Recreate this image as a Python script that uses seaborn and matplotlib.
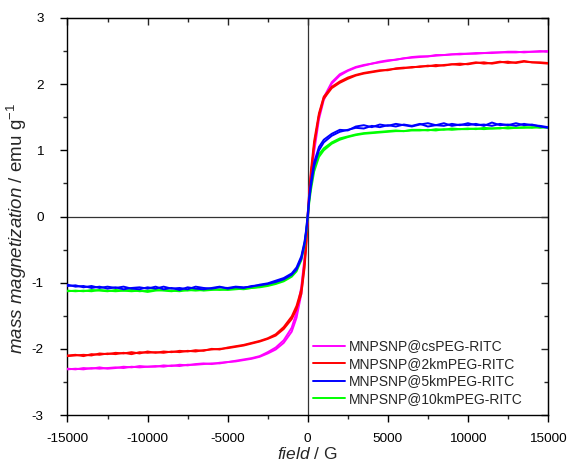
import numpy as np
import pandas as pd
import matplotlib
matplotlib.use('Agg')
import matplotlib.pyplot as plt
from matplotlib.ticker import MultipleLocator
import seaborn as sns

# applied field (G), same grid for both sweep branches
field = [-15000, -14500, -14000, -13500, -13000, -12500, -12000, -11500, -11000, -10500,
         -10000, -9500, -9000, -8500, -8000, -7500, -7000, -6500, -6000, -5500,
         -5000, -4500, -4000, -3500, -3000,
         -2500, -2000, -1500, -1000, -700, -400, -200, -100,
         0,
         100, 200, 400, 700, 1000, 1500, 2000, 2500,
         3000, 3500, 4000, 4500, 5000, 5500, 6000, 6500, 7000, 7500,
         8000, 8500, 9000, 9500, 10000, 10500, 11000, 11500, 12000, 12500,
         13000, 13500, 14000, 14500, 15000]

# MNPSNP@csPEG-RITC
cs_up = [-2.31, -2.30, -2.31, -2.29, -2.30, -2.29, -2.28, -2.29, -2.27, -2.28,
         -2.27, -2.26, -2.27, -2.25, -2.26, -2.24, -2.24, -2.23, -2.22, -2.22,
         -2.20, -2.19, -2.17, -2.15, -2.12,
         -2.07, -2.01, -1.91, -1.74, -1.53, -1.17, -0.72, -0.42,
         -0.06,
         0.30, 0.56, 0.98, 1.47, 1.76, 2.01, 2.13, 2.20,
         2.25, 2.28, 2.31, 2.33, 2.35, 2.37, 2.39, 2.40, 2.41, 2.42,
         2.43, 2.44, 2.45, 2.45, 2.46, 2.46, 2.47, 2.47, 2.48, 2.48,
         2.48, 2.49, 2.49, 2.50, 2.49]
cs_down = [-2.30, -2.31, -2.29, -2.30, -2.28, -2.30, -2.29, -2.27, -2.28, -2.26,
           -2.27, -2.27, -2.25, -2.26, -2.24, -2.25, -2.23, -2.22, -2.23, -2.21,
           -2.20, -2.18, -2.16, -2.14, -2.11,
           -2.05, -1.98, -1.87, -1.68, -1.45, -1.06, -0.62, -0.32,
           0.05,
           0.38, 0.64, 1.06, 1.53, 1.80, 2.03, 2.15, 2.21,
           2.26, 2.29, 2.31, 2.34, 2.36, 2.37, 2.39, 2.41, 2.42, 2.42,
           2.44, 2.44, 2.45, 2.46, 2.46, 2.47, 2.47, 2.48, 2.48, 2.49,
           2.49, 2.48, 2.49, 2.49, 2.50]

# MNPSNP@2kmPEG-RITC
km2_up = [-2.10, -2.09, -2.11, -2.08, -2.09, -2.07, -2.08, -2.06, -2.08, -2.05,
          -2.06, -2.05, -2.06, -2.04, -2.05, -2.03, -2.04, -2.02, -2.01, -2.00,
          -1.99, -1.97, -1.95, -1.92, -1.89,
          -1.85, -1.80, -1.70, -1.55, -1.40, -1.17, -0.78, -0.47,
          -0.06,
          0.32, 0.62, 1.08, 1.52, 1.78, 1.94, 2.02, 2.08,
          2.13, 2.16, 2.18, 2.20, 2.22, 2.23, 2.24, 2.26, 2.26, 2.28,
          2.27, 2.29, 2.30, 2.29, 2.31, 2.33, 2.31, 2.32, 2.34, 2.32,
          2.33, 2.35, 2.33, 2.32, 2.31]
km2_down = [-2.11, -2.10, -2.09, -2.10, -2.07, -2.08, -2.06, -2.07, -2.05, -2.07,
            -2.04, -2.06, -2.04, -2.05, -2.03, -2.04, -2.02, -2.03, -2.00, -2.01,
            -1.98, -1.96, -1.94, -1.91, -1.88,
            -1.84, -1.78, -1.67, -1.51, -1.35, -1.10, -0.68, -0.38,
            0.04,
            0.40, 0.70, 1.14, 1.56, 1.81, 1.96, 2.04, 2.10,
            2.14, 2.17, 2.19, 2.21, 2.21, 2.24, 2.25, 2.25, 2.27, 2.27,
            2.29, 2.28, 2.30, 2.31, 2.30, 2.32, 2.33, 2.31, 2.33, 2.34,
            2.32, 2.34, 2.33, 2.33, 2.32]

# MNPSNP@5kmPEG-RITC
km5_up = [-1.03, -1.06, -1.05, -1.08, -1.06, -1.09, -1.07, -1.10, -1.08, -1.07,
          -1.09, -1.06, -1.10, -1.08, -1.11, -1.07, -1.09, -1.10, -1.08, -1.06,
          -1.09, -1.07, -1.08, -1.05, -1.04,
          -1.02, -0.99, -0.95, -0.88, -0.80, -0.64, -0.42, -0.24,
          -0.02,
          0.26, 0.46, 0.76, 1.00, 1.12, 1.22, 1.28, 1.31,
          1.34, 1.33, 1.37, 1.35, 1.38, 1.36, 1.39, 1.37, 1.40, 1.36,
          1.38, 1.41, 1.37, 1.39, 1.38, 1.40, 1.37, 1.42, 1.38, 1.39,
          1.37, 1.40, 1.38, 1.37, 1.35]
km5_down = [-1.05, -1.04, -1.07, -1.05, -1.08, -1.06, -1.08, -1.06, -1.09, -1.10,
            -1.07, -1.09, -1.06, -1.09, -1.08, -1.10, -1.06, -1.08, -1.09, -1.07,
            -1.08, -1.06, -1.07, -1.06, -1.03,
            -1.01, -0.97, -0.93, -0.86, -0.77, -0.60, -0.38, -0.20,
            0.04,
            0.32, 0.53, 0.82, 1.05, 1.16, 1.25, 1.31, 1.30,
            1.36, 1.38, 1.35, 1.39, 1.37, 1.40, 1.38, 1.36, 1.39, 1.41,
            1.38, 1.37, 1.40, 1.38, 1.41, 1.38, 1.39, 1.37, 1.40, 1.38,
            1.41, 1.38, 1.39, 1.36, 1.34]

# MNPSNP@10kmPEG-RITC
km10_up = [-1.12, -1.13, -1.12, -1.13, -1.11, -1.12, -1.13, -1.12, -1.11, -1.13,
           -1.12, -1.11, -1.12, -1.13, -1.11, -1.12, -1.10, -1.12, -1.11, -1.10,
           -1.11, -1.10, -1.09, -1.08, -1.07,
           -1.05, -1.02, -0.98, -0.91, -0.83, -0.66, -0.44, -0.26,
           -0.03,
           0.22, 0.40, 0.68, 0.90, 1.00, 1.10, 1.16, 1.20,
           1.23, 1.25, 1.26, 1.27, 1.28, 1.29, 1.29, 1.30, 1.30, 1.31,
           1.30, 1.32, 1.31, 1.32, 1.32, 1.33, 1.32, 1.33, 1.34, 1.33,
           1.34, 1.34, 1.35, 1.34, 1.35]
km10_down = [-1.13, -1.12, -1.13, -1.11, -1.12, -1.13, -1.11, -1.12, -1.13, -1.12,
             -1.14, -1.12, -1.11, -1.12, -1.13, -1.11, -1.12, -1.11, -1.10, -1.11,
             -1.10, -1.09, -1.10, -1.08, -1.06,
             -1.04, -1.01, -0.96, -0.89, -0.80, -0.62, -0.40, -0.22,
             0.03,
             0.28, 0.46, 0.73, 0.94, 1.03, 1.12, 1.18, 1.21,
             1.24, 1.26, 1.27, 1.28, 1.29, 1.30, 1.29, 1.31, 1.31, 1.30,
             1.32, 1.31, 1.33, 1.32, 1.33, 1.32, 1.34, 1.33, 1.33, 1.35,
             1.34, 1.35, 1.34, 1.36, 1.34]

samples = ['MNPSNP@csPEG-RITC', 'MNPSNP@2kmPEG-RITC', 'MNPSNP@5kmPEG-RITC', 'MNPSNP@10kmPEG-RITC']
colors = ['#ff00ff', '#ff0000', '#0000ff', '#00ff00']
branches = {
    samples[0]: (cs_up, cs_down),
    samples[1]: (km2_up, km2_down),
    samples[2]: (km5_up, km5_down),
    samples[3]: (km10_up, km10_down),
}

rows = []
for s, (up, down) in branches.items():
    for br, vals in (('up', up), ('down', down)):
        assert len(vals) == len(field), (s, br, len(vals))
        for f, m in zip(field, vals):
            rows.append({'sample': s, 'branch': br, 'field': f, 'm': m})
df = pd.DataFrame(rows)

sns.set_style('ticks')
plt.rcParams['font.family'] = ['Liberation Sans', 'DejaVu Sans']
plt.rcParams['axes.unicode_minus'] = False
plt.rcParams['mathtext.fontset'] = 'custom'
plt.rcParams['mathtext.rm'] = 'Liberation Sans'
plt.rcParams['mathtext.it'] = 'Liberation Sans:italic'

fig = plt.figure(figsize=(5.69, 4.66), dpi=100)
ax = fig.add_axes([0.1186, 0.1094, 0.8445, 0.852])

ax.axhline(0, color='#333333', lw=0.9, zorder=1)
ax.axvline(0, color='#333333', lw=0.9, zorder=1)

# draw green before blue so blue sits on top, as in the original
draw_order = [0, 1, 3, 2]
for i in draw_order:
    s = samples[i]
    sns.lineplot(data=df[df['sample'] == s], x='field', y='m', units='branch',
                 estimator=None, sort=False, color=colors[i], lw=1.4,
                 ax=ax, zorder=3, legend=False)

handles = [plt.Line2D([], [], color=c, lw=1.4) for c in colors]
ax.legend(handles, samples, loc='lower right', frameon=False, fontsize=10,
          handlelength=2.3, labelspacing=0.25, handletextpad=0.3,
          borderpad=0, borderaxespad=0, bbox_to_anchor=(0.948, 0.023))

ax.set_xlim(-15000, 15000)
ax.set_ylim(-3, 3)
ax.xaxis.set_major_locator(MultipleLocator(5000))
ax.xaxis.set_minor_locator(MultipleLocator(2500))
ax.yaxis.set_major_locator(MultipleLocator(1))
ax.yaxis.set_minor_locator(MultipleLocator(0.5))
ax.tick_params(which='major', direction='out', length=5, width=1, labelsize=9.7, colors='black')
ax.tick_params(which='minor', direction='out', length=3, width=1)
ax.tick_params(axis='x', which='major', pad=8)
ax.tick_params(axis='y', which='major', pad=12)

for sp in ax.spines.values():
    sp.set_linewidth(1.0)
    sp.set_color('black')
    sp.set_visible(True)

top = ax.secondary_xaxis('top')
top.xaxis.set_major_locator(MultipleLocator(5000))
top.xaxis.set_minor_locator(MultipleLocator(2500))
top.tick_params(which='major', direction='in', length=5, width=1, labeltop=False)
top.tick_params(which='minor', direction='in', length=3, width=1)
right = ax.secondary_yaxis('right')
right.yaxis.set_major_locator(MultipleLocator(1))
right.yaxis.set_minor_locator(MultipleLocator(0.5))
right.tick_params(which='major', direction='in', length=5, width=1, labelright=False)
right.tick_params(which='minor', direction='in', length=3, width=1)

ax.set_xlabel(r'$\mathit{field}$ / G', fontsize=12.5, labelpad=1)
ax.set_ylabel(r'$\mathit{mass\ magnetization}$ / emu g$^{-1}$', fontsize=13.5)
ax.yaxis.set_label_coords(-0.08, 0.47)

fig.savefig('out.png', dpi=100)
